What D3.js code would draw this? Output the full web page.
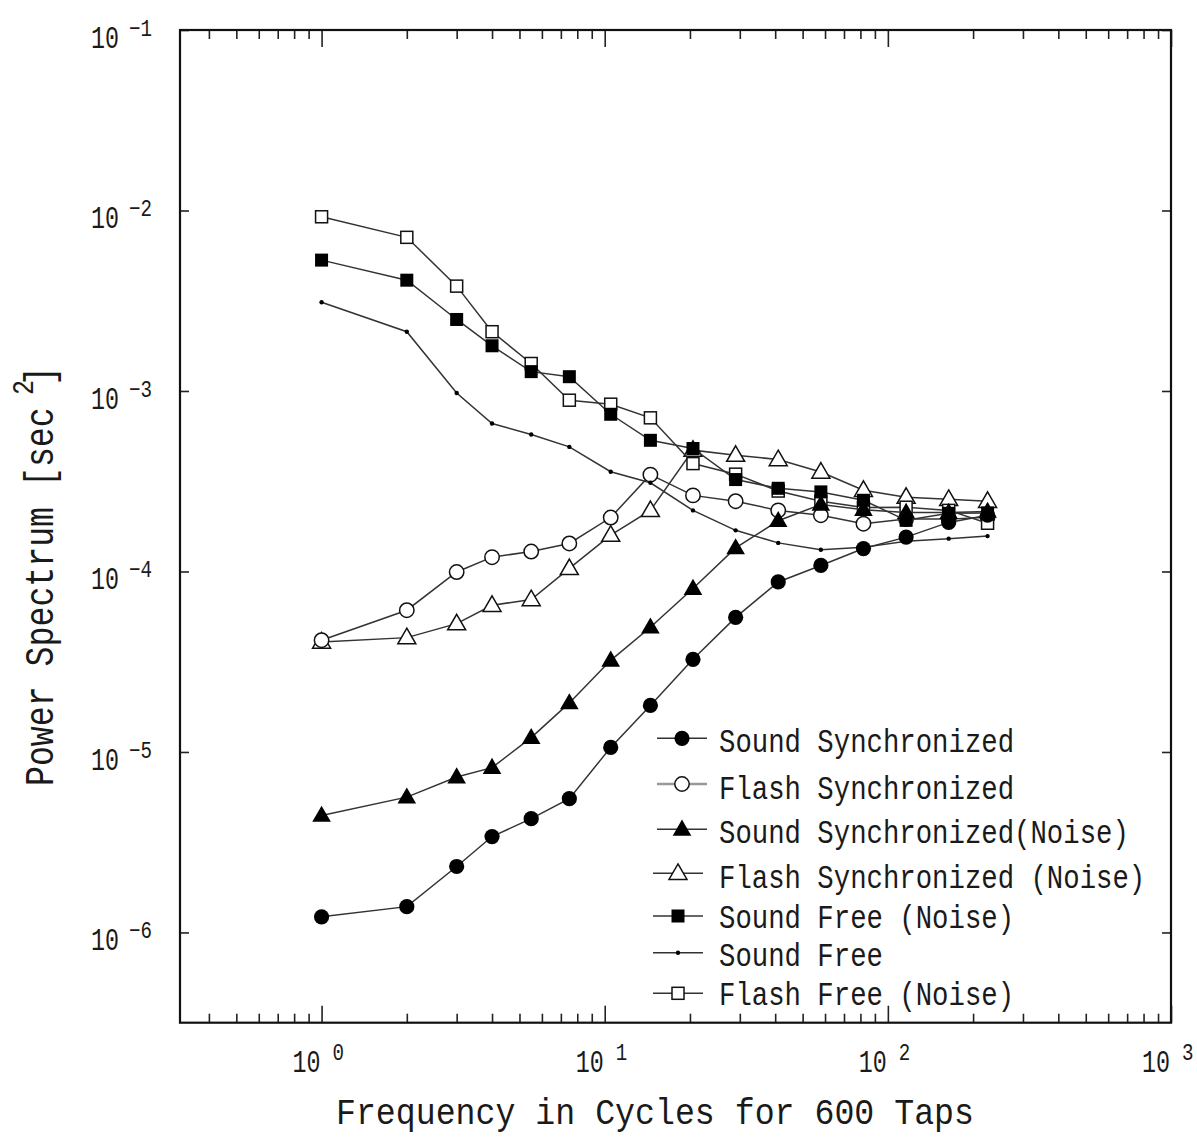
<!DOCTYPE html>
<html><head><meta charset="utf-8">
<script src="https://cdn.jsdelivr.net/npm/d3@7"></script>
<style>
html,body{margin:0;padding:0;background:#fff;}
svg text{font-family:"Liberation Mono","DejaVu Sans Mono",monospace;fill:#1a1a1a;}
</style></head>
<body>
<svg id="chart" width="1197" height="1137"></svg>
<script>
// ---- data ----
const xValues = [1,2,3,4,5.5,7.5,10.5,14.5,20.5,29,41,58,82,116,164,225];
const soundSync      = [1.22e-6,1.39e-6,2.32e-6,3.40e-6,4.27e-6,5.51e-6,1.06e-5,1.81e-5,3.26e-5,5.57e-5,8.75e-5,1.08e-4,1.34e-4,1.55e-4,1.87e-4,2.05e-4];
const flashSync      = [4.16e-5,6.10e-5,9.93e-5,1.20e-4,1.29e-4,1.43e-4,1.99e-4,3.44e-4,2.64e-4,2.45e-4,2.18e-4,2.05e-4,1.84e-4,1.95e-4,1.95e-4,2.00e-4];
const soundSyncNoise = [4.45e-6,5.62e-6,7.26e-6,8.19e-6,1.20e-5,1.87e-5,3.22e-5,4.91e-5,8.04e-5,1.35e-4,1.91e-4,2.35e-4,2.20e-4,2.12e-4,2.12e-4,2.15e-4];
const flashSyncNoise = [4.07e-5,4.30e-5,5.14e-5,6.50e-5,6.99e-5,1.04e-4,1.59e-4,2.18e-4,4.70e-4,4.41e-4,4.17e-4,3.56e-4,2.82e-4,2.58e-4,2.51e-4,2.45e-4];
const soundFreeNoise = [5.31e-3,4.11e-3,2.49e-3,1.78e-3,1.28e-3,1.20e-3,7.43e-4,5.33e-4,4.80e-4,3.23e-4,2.89e-4,2.76e-4,2.48e-4,1.92e-4,2.10e-4,2.11e-4];
const soundFree      = [3.10e-3,2.13e-3,9.75e-4,6.60e-4,5.74e-4,4.90e-4,3.57e-4,3.10e-4,2.18e-4,1.69e-4,1.44e-4,1.32e-4,1.36e-4,1.47e-4,1.52e-4,1.57e-4];
const flashFreeNoise = [9.23e-3,7.10e-3,3.81e-3,2.13e-3,1.42e-3,8.89e-4,8.45e-4,7.10e-4,3.96e-4,3.46e-4,2.79e-4,2.45e-4,2.26e-4,2.27e-4,2.18e-4,1.85e-4];

const seriesNames = ["Sound Synchronized","Flash Synchronized","Sound Synchronized(Noise)","Flash Synchronized (Noise)","Sound Free (Noise)","Sound Free","Flash Free (Noise)"];
const seriesValues = [soundSync, flashSync, soundSyncNoise, flashSyncNoise, soundFreeNoise, soundFree, flashFreeNoise];
const seriesMarkers = ["circleFilled","circleOpen","triFilled","triOpen","squareFilled","dot","squareOpen"];

const xMajorTicks = [1,10,100,1000];
const xTickExponents = ["0","1","2","3"];
const yMajorTicks = [1e-1,1e-2,1e-3,1e-4,1e-5,1e-6];
const yTickExponents = ["\u22121","\u22122","\u22123","\u22124","\u22125","\u22126"];
const xTitle = "Frequency in Cycles for 600 Taps";

// ---- layout ----
const L = 180, R = 1171, T = 30, B = 1022.7;
const svg = d3.select("#chart");
const x = d3.scaleLog().domain([Math.pow(10,-0.5), 1000]).range([L, R]);
const y = d3.scaleLog().domain([Math.pow(10,-6.5), 0.1]).range([B, T]);

const xMinor = [];
[0.1,1,10,100].forEach(d => { for (let k=2;k<=9;k++){ const v=d*k; if (v>=Math.pow(10,-0.5) && v<1000) xMinor.push(v);} });

function tickAxis(axisGen, transform){
  const g = svg.append("g").attr("transform", transform).call(axisGen);
  g.select(".domain").remove();
  g.selectAll(".tick line").attr("stroke","#222").attr("stroke-width",1.6);
  g.selectAll(".tick text").remove();
}
tickAxis(d3.axisBottom(x).tickValues(xMajorTicks).tickSize(-17).tickFormat(""), `translate(0,${B})`);
tickAxis(d3.axisBottom(x).tickValues(xMinor).tickSize(-9).tickFormat(""), `translate(0,${B})`);
tickAxis(d3.axisTop(x).tickValues(xMajorTicks).tickSize(-17).tickFormat(""), `translate(0,${T})`);
tickAxis(d3.axisTop(x).tickValues(xMinor).tickSize(-9).tickFormat(""), `translate(0,${T})`);
tickAxis(d3.axisLeft(y).tickValues(yMajorTicks).tickSize(-9).tickFormat(""), `translate(${L},0)`);
tickAxis(d3.axisRight(y).tickValues(yMajorTicks).tickSize(-9).tickFormat(""), `translate(${R},0)`);

svg.append("rect").attr("x",L).attr("y",T).attr("width",R-L).attr("height",B-T)
  .attr("fill","none").attr("stroke","#111").attr("stroke-width",2.2);

// monospace text condensed horizontally to a given per-character advance
function monoText(g, str, px, py, size, adv, anchor){
  const s = adv / (0.6 * size);
  return g.append("text").attr("transform",`translate(${px},${py}) scale(${s},1)`)
    .attr("x",0).attr("y",0).attr("font-size",size)
    .attr("text-anchor",anchor||"start").text(str);
}
const labG = svg.append("g");
xMajorTicks.forEach((v,i) => {
  const px = x(v);
  monoText(labG, "10", px-1, 1072, 32, 14, "end");
  monoText(labG, xTickExponents[i], px+11, 1060, 24, 11.5, "start");
});
yMajorTicks.forEach((v,i) => {
  const py = y(v);
  monoText(labG, "10", 119, py+18, 32, 14, "end");
  monoText(labG, yTickExponents[i], 129, py+6, 24, 11.5, "start");
});

monoText(svg, xTitle, 336, 1124, 37, 19.94, "start");
const yt = svg.append("g").attr("transform","translate(53,786) rotate(-90)");
monoText(yt, "Power Spectrum [sec", 0, 0, 41, 19.94, "start");
monoText(yt, "2", 391, -20, 29, 15, "start");
monoText(yt, "]", 400, 0, 41, 19.94, "start");

function drawMarker(g, type, cx, cy){
  const stroke = "#111";
  if (type==="circleFilled") g.append("circle").attr("cx",cx).attr("cy",cy).attr("r",7.6).attr("fill","#000");
  else if (type==="circleOpen") g.append("circle").attr("cx",cx).attr("cy",cy).attr("r",7.2).attr("fill","#fff").attr("stroke",stroke).attr("stroke-width",1.5);
  else if (type==="triFilled") g.append("path").attr("d",d3.symbol(d3.symbolTriangle,150)()).attr("transform",`translate(${cx},${cy+1})`).attr("fill","#000");
  else if (type==="triOpen") g.append("path").attr("d",d3.symbol(d3.symbolTriangle,140)()).attr("transform",`translate(${cx},${cy+1})`).attr("fill","#fff").attr("stroke",stroke).attr("stroke-width",1.5);
  else if (type==="squareFilled") g.append("rect").attr("x",cx-6.5).attr("y",cy-6.5).attr("width",13).attr("height",13).attr("fill","#000");
  else if (type==="squareOpen") g.append("rect").attr("x",cx-6).attr("y",cy-6).attr("width",12).attr("height",12).attr("fill","#fff").attr("stroke",stroke).attr("stroke-width",1.5);
  else if (type==="dot") g.append("circle").attr("cx",cx).attr("cy",cy).attr("r",2.2).attr("fill","#000");
}

const line = d3.line().x(d=>x(d[0])).y(d=>y(d[1]));
const plotG = svg.append("g");
const drawOrder = [3,1,6,5,2,0,4];
drawOrder.forEach(si => {
  const pts = xValues.map((xv,i)=>[xv, seriesValues[si][i]]);
  plotG.append("path").attr("d", line(pts)).attr("fill","none").attr("stroke","#333").attr("stroke-width",1.5);
  const mg = plotG.append("g");
  pts.forEach(p => drawMarker(mg, seriesMarkers[si], x(p[0]), y(p[1])));
});

const legendBaselines = [751.7, 799.3, 843.3, 888.3, 928.3, 966, 1005];
const legendCenters = [738.3, 784, 829.3, 873.3, 916, 952.7, 993.3];
const legG = svg.append("g");
seriesNames.forEach((name,i) => {
  const cy = legendCenters[i];
  const x1 = i<3 ? 657 : 653, x2 = i<3 ? 707 : 703;
  legG.append("line").attr("x1",x1).attr("x2",x2).attr("y1",cy).attr("y2",cy)
    .attr("stroke", i===1 ? "#999" : "#333").attr("stroke-width", i===1 ? 2.5 : 1.6);
  drawMarker(legG, seriesMarkers[i], (x1+x2)/2, cy);
  monoText(legG, name, 719, legendBaselines[i], 33, 16.4, "start");
});
</script>
</body></html>
